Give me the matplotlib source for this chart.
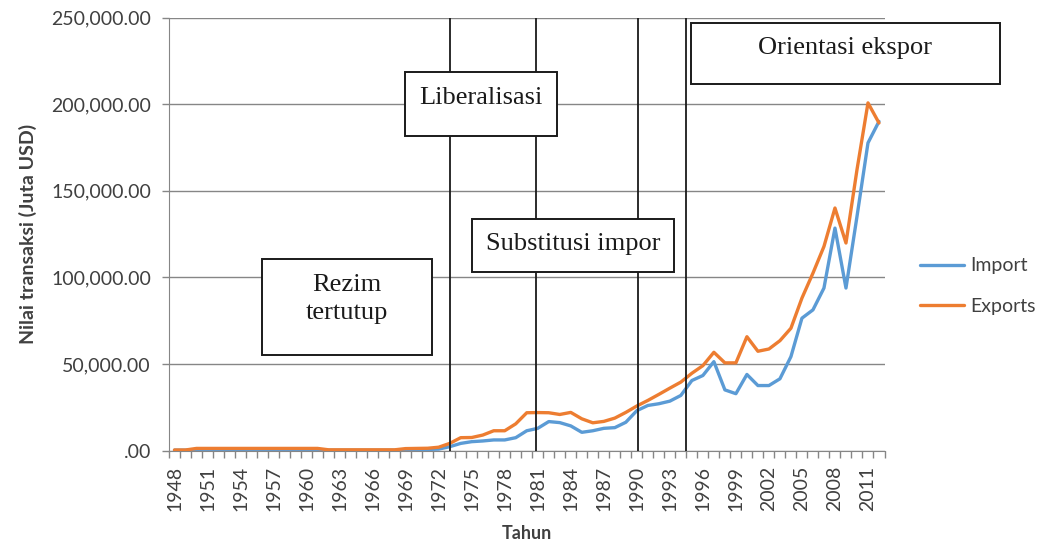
import numpy as np
import matplotlib
matplotlib.use("Agg")
from matplotlib import pyplot as plt
from matplotlib.patches import Rectangle
from matplotlib.ticker import FuncFormatter

years = list(range(1948, 2013))

imports = [200, 200,
           500, 500, 500, 500, 500, 500, 500, 500, 500, 500, 500, 500,
           150, 150, 150, 150, 150, 150, 150,
           400, 500, 600, 800,
           2200, 4100, 5100, 5500, 6100, 6100, 7400, 11400, 12800, 16700,
           16100, 14200, 10500, 11400, 12800, 13200, 16300, 23000, 26000, 27000,
           28500, 31800, 40400, 43300, 51300, 35000, 32800, 43900, 37500, 37500,
           41400, 54200, 76400, 81200, 93800, 128400, 93800, 135100, 177600, 190000]

exports = [300, 300,
           1200, 1200, 1200, 1200, 1200, 1200, 1200, 1200, 1200, 1200, 1200, 1200,
           400, 400, 400, 400, 400, 400, 400,
           1100, 1200, 1300, 1900,
           4100, 7400, 7500, 8900, 11400, 11400, 15400, 21800, 21900, 21800,
           20800, 22000, 18300, 16000, 16800, 18700, 22000, 25700, 28900, 32400,
           36000, 39500, 44600, 49000, 56700, 50600, 50600, 65700, 57300, 58600,
           63400, 70600, 88000, 102400, 117800, 140000, 119800, 162100, 200700, 189100]

# period boundaries (years) and labels
period_lines = [1973.0, 1980.8, 1990.1, 1994.5]
period_labels = ["Rezim\ntertutup", "Liberalisasi", "Substitusi impor", "Orientasi ekspor"]

W, H = 1042, 544
fig = plt.figure(figsize=(W / 100, H / 100), dpi=100)
ax = fig.add_axes([169 / W, 1 - 450.5 / H, (884.5 - 169) / W, (450.5 - 17.5) / H])

grey = "#868686"
txt = "#404040"

ax.plot(years, imports, color="#5B9BD5", lw=2.4, label="Import", solid_capstyle="round", zorder=3)
ax.plot(years, exports, color="#ED7D31", lw=2.4, label="Exports", solid_capstyle="round", zorder=3)

ax.set_xlim(1947.5, 2012.5)
ax.set_ylim(0, 250000)
ax.set_yticks(np.arange(0, 250001, 50000))
ax.yaxis.set_major_formatter(FuncFormatter(lambda v, p: ".00" if v == 0 else f"{v:,.2f}"))
ax.grid(axis="y", color=grey, lw=1)
ax.set_axisbelow(True)

ax.set_xticks(years[::3])
ax.set_xticklabels([str(y) for y in years[::3]], rotation=90)
ax.set_xticks(np.arange(1947.5, 2013, 1), minor=True)
ax.tick_params(axis="x", which="major", length=0, pad=11, labelsize=14, labelcolor=txt)
ax.tick_params(axis="x", which="minor", length=5, color=grey, width=1)
ax.tick_params(axis="y", length=5, color=grey, width=1, pad=8, labelsize=14, labelcolor=txt)
for lab in ax.get_xticklabels() + ax.get_yticklabels():
    lab.set_family("Lato")

for s in ["top", "right"]:
    ax.spines[s].set_visible(False)
for s in ["left", "bottom"]:
    ax.spines[s].set_color(grey)

ax.set_xlabel("Tahun", fontsize=13, fontweight="bold", family="Lato", color=txt, labelpad=10)
ax.set_ylabel("Nilai transaksi (Juta USD)", fontsize=14, fontweight="bold", family="Lato",
              color=txt, labelpad=10)

for x in period_lines:
    ax.axvline(x, color="#1a1a1a", lw=1.3, zorder=4)

# annotation boxes, pixel coords (x0, y0, x1, y1) and text centre y
boxes = [(262, 259, 432, 355, 299), (405, 72, 557, 136, 98),
         (472, 219, 674, 272, 244), (691, 23, 1000, 84, 48)]
for (x0, y0, x1, y1, ty), lab in zip(boxes, period_labels):
    fig.patches.append(Rectangle((x0 / W, 1 - y1 / H), (x1 - x0) / W, (y1 - y0) / H,
                                 transform=fig.transFigure, facecolor="white",
                                 edgecolor="#1a1a1a", lw=1.4, zorder=5))
    fig.text((x0 + x1) / 2 / W, 1 - ty / H, lab, ha="center", va="center",
             family="Liberation Serif", fontsize=19, color="#1a1a1a",
             linespacing=1.35, zorder=6)

fig.legend(loc="upper left", bbox_to_anchor=(902 / W, 1 - 240 / H), frameon=False,
           prop={"family": "Lato", "size": 14}, handlelength=2.3, handletextpad=0.3,
           labelspacing=1.2, labelcolor=txt)

fig.savefig("out.png", dpi=100)
